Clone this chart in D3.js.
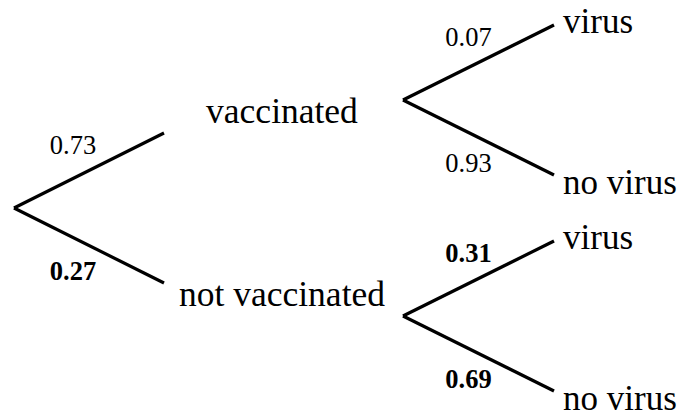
<!DOCTYPE html>
<html>
<head>
<meta charset="utf-8">
<script src="https://cdn.jsdelivr.net/npm/d3@7/dist/d3.min.js"></script>
<style>
  html, body { margin: 0; padding: 0; background: #fff; }
  svg { display: block; }
  text { font-family: "Liberation Serif", "Times New Roman", serif; fill: #000; }
</style>
</head>
<body>
<svg id="chart" width="685" height="416"></svg>
<script>
// ---- data ----
const firstLevel = ["vaccinated", "not vaccinated"];
const firstProbs = [0.73, 0.27];
const secondLevel = ["virus", "no virus"];
const secondProbs = [[0.07, 0.93], [0.31, 0.69]];

// ---- layout ----
const svg = d3.select("#chart");

// horizontal: depth -> x
const x = d3.scaleLinear().domain([0, 2]).range([14, 554]);
const labelGap = 120; // half-width of gap around level-1 labels

// vertical: branch offset via scale (sign -1 = upper, +1 = lower)
const spread = d3.scaleLinear().domain([-1, 1]).range([-75, 75]);
const rootY = 208;
const groupY = d3.scalePoint().domain(firstLevel).range([100, 316]);

const fmt = d3.format(".2f");
const lineGen = d3.line();
const g = svg.append("g");

function branch(x0, y0, x1, y1) {
  g.append("path")
    .attr("d", lineGen([[x0, y0], [x1, y1]]))
    .attr("fill", "none")
    .attr("stroke", "#000")
    .attr("stroke-width", 3.2)
    .attr("stroke-linecap", "butt");
}

function probLabel(x0, y0, x1, y1, p, upper, bold, dx) {
  const mx = (x0 + x1) / 2, my = (y0 + y1) / 2;
  g.append("text")
    .attr("x", mx + dx)
    .attr("y", upper ? my - 17 : my + 34)
    .attr("text-anchor", "middle")
    .attr("font-size", 26.5)
    .attr("font-weight", bold ? "bold" : "normal")
    .text(fmt(p));
}

// first level
firstLevel.forEach((name, i) => {
  const s = i === 0 ? -1 : 1;
  const x0 = x(0), y0 = rootY;
  const x1 = x(1) - labelGap, y1 = rootY + spread(s);
  branch(x0, y0, x1, y1);
  probLabel(x0, y0, x1, y1, firstProbs[i], s < 0, i === 1, -16);

  // node label
  g.append("text")
    .attr("x", x(1) - 2)
    .attr("y", i === 0 ? y1 - 10 : y1 + 23)
    .attr("text-anchor", "middle")
    .attr("font-size", 35.5)
    .text(name);

  // second level
  const gx = x(1) + labelGap - 1, gy = groupY(name);
  secondLevel.forEach((leaf, j) => {
    const t = j === 0 ? -1 : 1;
    const lx = x(2), ly = gy + spread(t);
    branch(gx, gy, lx, ly);
    probLabel(gx, gy, lx, ly, secondProbs[i][j], t < 0, i === 1, -10);
    g.append("text")
      .attr("x", lx + 9)
      .attr("y", t < 0 ? ly + 8 : ly + 19)
      .attr("text-anchor", "start")
      .attr("font-size", 35)
      .text(leaf);
  });
});
</script>
</body>
</html>
